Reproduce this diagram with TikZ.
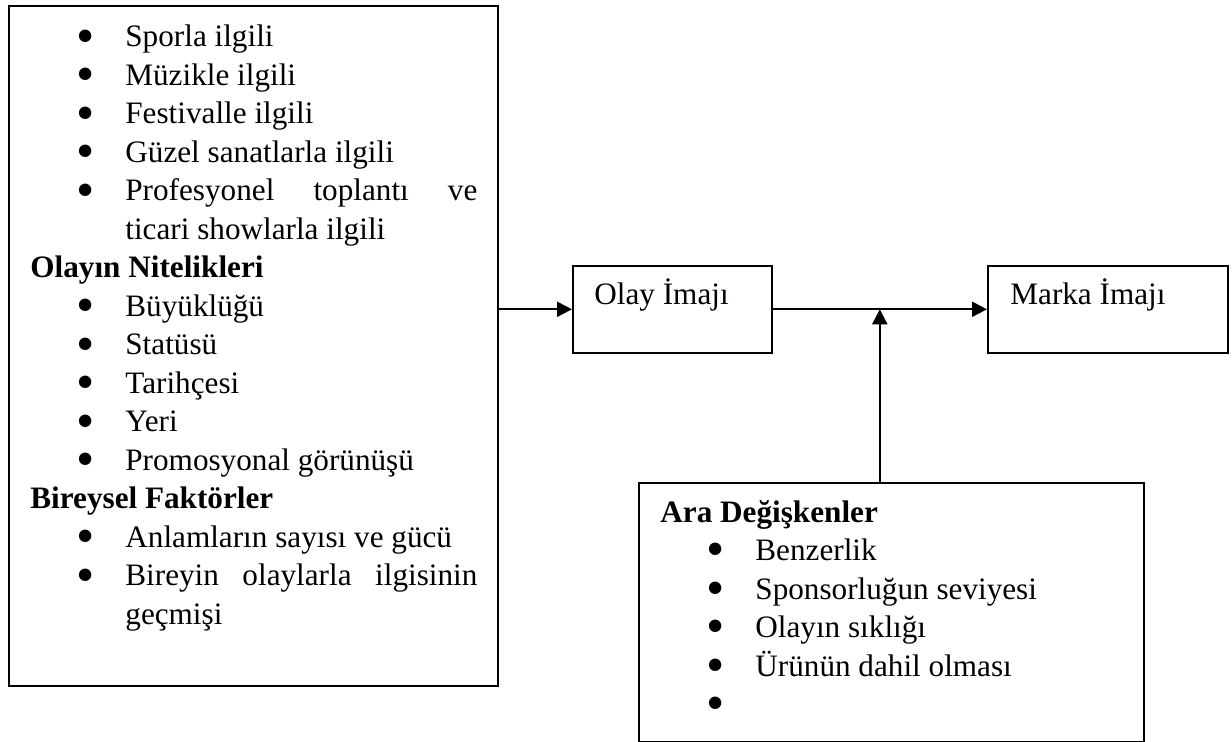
\documentclass[tikz,border=0pt]{standalone}
\usepackage{fontspec}
\setmainfont{Liberation Serif}
\usetikzlibrary{calc,arrows.meta}

\tikzset{
  box/.style={draw, line width=0.8pt, rectangle, inner sep=0pt, anchor=north west},
  txt/.style={align=left, inner sep=0pt, anchor=base west, font=\fontsize{15.6}{19.25}\selectfont},
  arr/.style={line width=1pt, -{Triangle[length=7.5pt,width=7.5pt]}}
}
% bullet item: dot at 27.5pt, text at 47.5pt
\newcommand{\dotmark}{\raisebox{-3.2pt}{\fontsize{26}{0}\selectfont\textbullet}}
\newcommand{\itm}[1]{\hspace*{27.5pt}\makebox[0pt]{\dotmark}\hspace*{20pt}#1}

\begin{document}
\begin{tikzpicture}[x=0.5pt, y=-0.5pt]

    \useasboundingbox (0,0) rectangle (1232,742);

    % Boxes (positions in px of the page, sizes in pt)
    \node[box, minimum width=244.5pt, minimum height=340pt] (left) at (8,5) {};
    \node[box, minimum width=99.5pt, minimum height=43.5pt] (olay) at (572,265) {};
    \node[box, minimum width=120pt, minimum height=43.5pt] (marka) at (987,265) {};
    \node[box, minimum width=252.5pt, minimum height=129.5pt] (ara) at (638,482) {};

    % Left list (placed by the baseline of its last line)
    \node[txt] (lefttxt) at ($(left.north west)+(22,619.2)$) {%
      \itm{Sporla ilgili}\\
      \itm{Müzikle ilgili}\\
      \itm{Festivalle ilgili}\\
      \itm{Güzel sanatlarla ilgili}\\
      \itm{\makebox[176pt][s]{Profesyonel toplantı ve}}\\
      \hspace*{47.5pt}ticari showlarla ilgili\\
      \textbf{Olayın Nitelikleri}\\
      \itm{Büyüklüğü}\\
      \itm{Statüsü}\\
      \itm{Tarihçesi}\\
      \itm{Yeri}\\
      \itm{Promosyonal görünüşü}\\
      \textbf{Bireysel Faktörler}\\
      \itm{Anlamların sayısı ve gücü}\\
      \itm{\makebox[176pt][s]{Bireyin olaylarla ilgisinin}}\\
      \hspace*{47.5pt}geçmişi};

    % Image boxes
    \node[txt] (olaytxt) at ($(olay.north west)+(22,40)$) {Olay İmajı};
    \node[txt] (markatxt) at ($(marka.north west)+(23,40)$) {Marka İmajı};

    % Moderating variables
    \node[txt] (aratxt) at ($(ara.north west)+(22,232.5)$) {%
      \textbf{Ara Değişkenler}\\
      \itm{Benzerlik}\\
      \itm{Sponsorluğun seviyesi}\\
      \itm{Olayın sıklığı}\\
      \itm{Ürünün dahil olması}\\
      \itm{}};

    % Arrows
    \coordinate (join) at ($(olay.east)!0.5!(marka.west)$);
    \draw[arr] (left.east |- olay.west) -- (olay.west);
    \draw[arr] (olay.east) -- (marka.west);
    \draw[arr] (ara.north -| join) -- (join);

\end{tikzpicture}
\end{document}
